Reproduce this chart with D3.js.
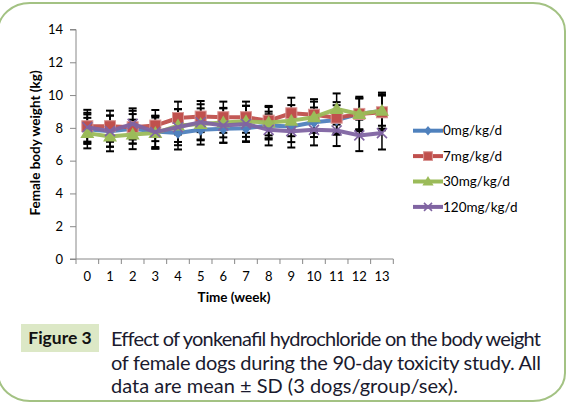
<!DOCTYPE html>
<html><head><meta charset="utf-8">
<script src="https://cdn.jsdelivr.net/npm/d3@7"></script>
<style>html,body{margin:0;padding:0;background:#fff;}svg{display:block;}</style>
</head><body>
<svg id="c" width="566" height="404"></svg>
<script>
const weeks = ["0","1","2","3","4","5","6","7","8","9","10","11","12","13"];
const seriesNames = ["0mg/kg/d","7mg/kg/d","30mg/kg/d","120mg/kg/d"];
const mean0   = [7.92,7.80,7.94,7.78,7.68,7.88,7.94,7.98,8.14,8.08,8.34,8.48,8.85,9.05];
const mean7   = [8.10,8.10,8.04,8.14,8.60,8.69,8.65,8.65,8.44,8.89,8.80,8.62,8.85,8.95];
const mean30  = [7.68,7.47,7.60,7.68,8.14,8.24,8.32,8.40,8.32,8.44,8.65,9.15,8.85,9.05];
const mean120 = [8.04,7.80,8.24,7.74,8.04,8.34,8.14,8.24,7.88,7.80,7.88,7.84,7.54,7.68];
const sd0   = [0.90,0.95,0.90,0.95,1.00,0.90,0.85,0.80,0.85,0.95,0.90,0.90,0.95,0.92];
const sd7   = [1.00,0.95,1.00,0.95,1.00,0.95,0.95,0.95,0.90,0.95,0.95,0.95,1.05,1.10];
const sd30  = [0.93,0.90,0.90,0.95,1.00,0.95,0.90,0.95,0.95,0.95,0.95,0.95,0.95,1.10];
const sd120 = [0.88,0.95,0.95,1.00,1.10,1.10,1.05,1.10,0.95,1.00,0.95,0.95,0.96,1.00];
const yTicks = [0,2,4,6,8,10,12,14];
const colors = ["#4F81BD","#C0504D","#9BBB59","#8064A2"];
const markers = ["diamond","square","triangle","x"];
const caption = ["Effect of yonkenafil hydrochloride on the body weight",
                 "of female dogs during the 90-day toxicity study. All",
                 "data are mean \u00b1 SD (3 dogs/group/sex)."];

const means = [mean0, mean7, mean30, mean120];
const sds = [sd0, sd7, sd30, sd120];
const series = seriesNames.map((n,i)=>({name:n,color:colors[i],marker:markers[i],
  values:weeks.map((w,j)=>({w, m:means[i][j], sd:sds[i][j]}))}));

const svg = d3.select("#c");
const font = "Lato, 'Open Sans', sans-serif";

// frame
svg.append("rect").attr("x",-2).attr("y",3).attr("width",567).attr("height",398)
  .attr("rx",32).attr("ry",28).attr("fill","none").attr("stroke","#a3c283").attr("stroke-width",2);

const x = d3.scaleBand().domain(weeks).range([76,393.3]);
const y = d3.scaleLinear().domain([0,14]).range([259,29.5]);

const g = svg.append("g");
// y axis
const ya = g.append("g").attr("transform","translate(76,0)")
  .call(d3.axisLeft(y).tickValues(yTicks).tickSize(6).tickPadding(7).tickFormat(d3.format("d")));
ya.select(".domain").attr("stroke","#888").attr("d","M-6,29.5H0V259H-6");
ya.selectAll(".tick line").attr("stroke","#888");
ya.selectAll("text").attr("font-family",font).attr("font-size",13).attr("fill","#000");

// x axis
const xa = g.append("g").attr("transform","translate(0,259)")
  .call(d3.axisBottom(x).tickSize(0).tickPadding(13));
xa.select(".domain").attr("stroke","#888").attr("d","M76,0H393.3");
xa.selectAll("text").attr("font-family",font).attr("font-size",13).attr("fill","#000");
const bounds = weeks.map(w=>x(w)).concat([x.range()[1]]);
xa.selectAll(".bline").data(bounds).enter().append("line")
  .attr("x1",d=>d).attr("x2",d=>d).attr("y1",0).attr("y2",5).attr("stroke","#888");

// titles
svg.append("text").attr("x",234).attr("y",302).attr("text-anchor","middle")
  .attr("font-family",font).attr("font-weight","bold").attr("font-size",13.5).text("Time (week)");
svg.append("text").attr("transform","translate(40,143) rotate(-90)").attr("text-anchor","middle")
  .attr("font-family",font).attr("font-weight","bold").attr("font-size",13.5).text("Female body weight (kg)");

const cx = d => x(d.w) + x.bandwidth()/2;

// error bars
series.forEach(s=>{
  const eb = g.append("g").attr("stroke","#000").attr("stroke-width",1.5);
  s.values.forEach(d=>{
    const X = cx(d), t = y(d.m+d.sd), b = y(d.m-d.sd);
    eb.append("line").attr("x1",X).attr("x2",X).attr("y1",t).attr("y2",b);
    eb.append("line").attr("x1",X-4).attr("x2",X+4).attr("y1",t).attr("y2",t).attr("stroke-width",2);
    eb.append("line").attr("x1",X-4).attr("x2",X+4).attr("y1",b).attr("y2",b).attr("stroke-width",2);
  });
});

function drawMarker(sel, type, color, X, Y, s){
  s = s||1;
  if(type==="diamond"){
    sel.append("path").attr("d",`M${X},${Y-6*s}L${X+5*s},${Y}L${X},${Y+6*s}L${X-5*s},${Y}Z`).attr("fill",color);
  } else if(type==="square"){
    sel.append("rect").attr("x",X-5.5*s).attr("y",Y-5.5*s).attr("width",11*s).attr("height",11*s)
      .attr("fill",color).attr("stroke","#d99694").attr("stroke-width",1);
  } else if(type==="triangle"){
    sel.append("path").attr("d",`M${X},${Y-7*s}L${X+7*s},${Y+5*s}L${X-7*s},${Y+5*s}Z`).attr("fill",color);
  } else {
    sel.append("path").attr("d",`M${X-5*s},${Y-5*s}L${X+5*s},${Y+5*s}M${X+5*s},${Y-5*s}L${X-5*s},${Y+5*s}`)
      .attr("stroke",color).attr("stroke-width",1.6).attr("fill","none");
  }
}

const line = d3.line().x(cx).y(d=>y(d.m));
series.forEach(s=>{
  g.append("path").datum(s.values).attr("d",line).attr("fill","none")
    .attr("stroke",s.color).attr("stroke-width",4).attr("stroke-linejoin","round").attr("opacity",0.95);
  const mg = g.append("g");
  s.values.forEach(d=>drawMarker(mg, s.marker, s.color, cx(d), y(d.m)));
});

// legend
const lg = svg.append("g");
series.forEach((s,i)=>{
  const Y = 130.7 + i*25.4;
  lg.append("line").attr("x1",413).attr("x2",443).attr("y1",Y).attr("y2",Y)
    .attr("stroke",s.color).attr("stroke-width",4);
  drawMarker(lg, s.marker, s.color, 428, Y, 0.8);
  lg.append("text").attr("x",443).attr("y",Y).attr("dy","0.35em").attr("font-family",font)
    .attr("font-size",13.5).attr("fill","#000").text(s.name);
});

// caption
svg.append("rect").attr("x",21).attr("y",324).attr("width",78).attr("height",28).attr("fill","#dce8c6");
svg.append("text").attr("x",60).attr("y",338).attr("dy","0.36em").attr("text-anchor","middle")
  .attr("font-family",font).attr("font-weight","bold").attr("font-size",17.5).attr("fill","#111").text("Figure 3");
const capY = [338.5, 363, 385.5];
caption.forEach((t,i)=>{
  const tx = svg.append("text").attr("x",111).attr("y",capY[i]).attr("dy","0.36em")
    .attr("font-family",font).attr("font-size",20).attr("fill","#1a1a2e").text(t);
  if(i<2) tx.attr("textLength",430).attr("lengthAdjust","spacing");
});
</script>
</body></html>
